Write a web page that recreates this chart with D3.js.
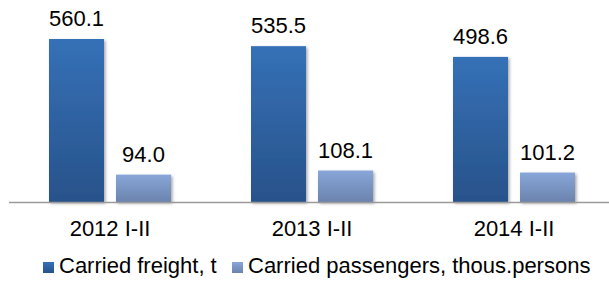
<!DOCTYPE html>
<html>
<head>
<meta charset="utf-8">
<script src="https://cdn.jsdelivr.net/npm/d3@7"></script>
<style>
  html, body { margin: 0; padding: 0; background: #fff; }
  svg { display: block; font-family: "Liberation Sans", Arial, sans-serif; }
</style>
</head>
<body>
<div id="chart"></div>
<script>
const CATEGORIES = ['2012 I-II', '2013 I-II', '2014 I-II'];
const SERIES = ['Carried freight, t', 'Carried passengers, thous.persons'];
const FREIGHT = [560.1, 535.5, 498.6];
const PASSENGERS = [94.0, 108.1, 101.2];

const width = 609, height = 282;
const baseY = 202;

const svg = d3.select('#chart').append('svg').attr('width', width).attr('height', height);
const defs = svg.append('defs');

const gradStops = [
  ['gFreight', '#3571b7', '#28528a'],
  ['gPass', '#88a6d8', '#6b83ad']
];
gradStops.forEach(([id, top, bot]) => {
  const g = defs.append('linearGradient').attr('id', id).attr('x1', 0).attr('y1', 0).attr('x2', 0).attr('y2', 1);
  g.append('stop').attr('offset', '0%').attr('stop-color', top);
  g.append('stop').attr('offset', '100%').attr('stop-color', bot);
});
const shadow = defs.append('filter').attr('id', 'shadow').attr('x', '-20%').attr('y', '-20%').attr('width', '140%').attr('height', '140%');
shadow.append('feDropShadow').attr('dx', 1.5).attr('dy', 1.5).attr('stdDeviation', 1.5).attr('flood-color', '#000').attr('flood-opacity', 0.35);

const x0 = d3.scaleBand().domain(CATEGORIES).range([9, 615]).paddingInner(0).paddingOuter(0);
const x1 = d3.scaleBand().domain(SERIES).range([40, 162]).paddingInner(0.179).paddingOuter(0);
const y = d3.scaleLinear().domain([0, 560.1]).range([baseY, 39]);

const rows = [];
CATEGORIES.forEach((c, i) => {
  rows.push({ cat: c, s: SERIES[0], v: FREIGHT[i], fill: 'url(#gFreight)' });
  rows.push({ cat: c, s: SERIES[1], v: PASSENGERS[i], fill: 'url(#gPass)' });
});

svg.append('g').selectAll('rect').data(rows).enter().append('rect')
  .attr('x', d => x0(d.cat) + x1(d.s))
  .attr('y', d => y(d.v))
  .attr('width', x1.bandwidth())
  .attr('height', d => baseY - y(d.v))
  .attr('fill', d => d.fill)
  .attr('filter', 'url(#shadow)');

svg.append('line')
  .attr('x1', 9).attr('x2', 609)
  .attr('y1', baseY + 0.5).attr('y2', baseY + 0.5)
  .attr('stroke', '#9a9a9a').attr('stroke-width', 1.5);

svg.append('g').selectAll('text').data(rows).enter().append('text')
  .attr('x', d => x0(d.cat) + x1(d.s) + x1.bandwidth() / 2)
  .attr('y', d => y(d.v) - 13)
  .attr('text-anchor', 'middle')
  .attr('font-size', 22)
  .attr('fill', '#000')
  .text(d => d.v.toFixed(1));

svg.append('g').selectAll('text').data(CATEGORIES).enter().append('text')
  .attr('x', d => x0(d) + x0.bandwidth() / 2)
  .attr('y', 236)
  .attr('text-anchor', 'middle')
  .attr('font-size', 22)
  .attr('fill', '#000')
  .text(d => d);

const legendX = [43, 232];
const legendFill = ['url(#gFreight)', 'url(#gPass)'];
const lg = svg.append('g');
SERIES.forEach((s, i) => {
  lg.append('rect').attr('x', legendX[i]).attr('y', 262).attr('width', 11).attr('height', 11).attr('fill', legendFill[i]);
  lg.append('text').attr('x', legendX[i] + 16).attr('y', 273).attr('font-size', 22).attr('fill', '#000').text(s);
});
</script>
</body>
</html>
